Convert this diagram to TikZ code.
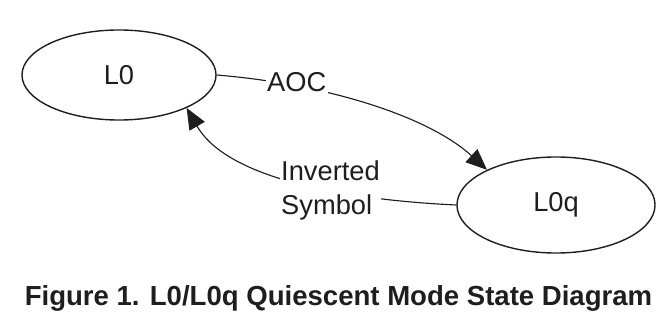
\documentclass[tikz,border=0pt]{standalone}
\usepackage{fontspec}
\setmainfont{Liberation Sans}
\usetikzlibrary{arrows.meta, shapes.geometric}
\definecolor{diagink}{RGB}{30, 30, 30}

\begin{document}
\begin{tikzpicture}[x=0.025cm, y=-0.025cm, >={Triangle[length=15pt, width=12.5pt]}]

% === Estilos ===
\tikzset{
    state/.style={ellipse, draw=diagink, line width=1pt, inner sep=0pt,
        minimum width=4.9cm, minimum height=2.3cm,
        text=diagink, font=\fontsize{19.4}{24}\selectfont},
    flow/.style={->, line width=0.8pt, diagink},
    flowlabel/.style={fill=white, inner sep=1pt, align=left,
        text=diagink, font=\fontsize{19.4}{24}\selectfont}
}

% === Marco (proporciones de la figura) ===
\useasboundingbox (0,0) rectangle (669,321);

% === Estados ===
\node[state, minimum width=4.85cm, minimum height=2.25cm] (L0) at (119,75) {L0};
\node[state, minimum width=4.95cm, minimum height=2.4cm] (L0q) at (556,205) {L0q};

% === Transiciones ===
% L0 -> L0q
\draw[flow] (L0.east) .. controls (326,84) and (428,116) .. (L0q.153)
    node[flowlabel, pos=0.25, yshift=2.5pt] (aoc) {AOC};

% L0q -> L0
\draw[flow] (L0q.west) .. controls (350,200) and (228,180) .. (L0.-26)
    node[flowlabel, pos=0.39] (inv) {Inverted\\Symbol};

% === Pie de figura ===
\node[anchor=base, text=diagink, font=\bfseries\fontsize{19.6}{24}\selectfont]
    (caption) at (338.5,305) {Figure 1. L0/L0q Quiescent Mode State Diagram};

\end{tikzpicture}
\end{document}
